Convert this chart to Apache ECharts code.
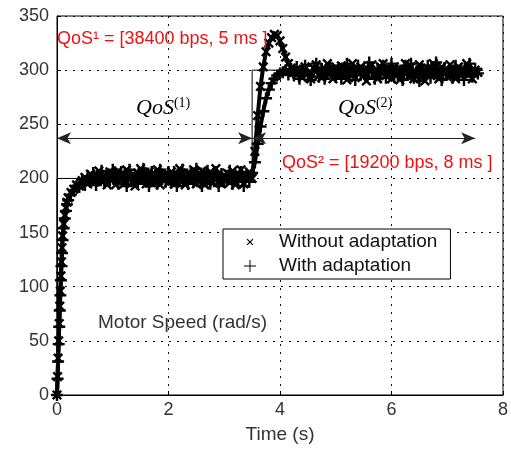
<!DOCTYPE html>
<html><head><meta charset="utf-8">
<script src="https://cdn.jsdelivr.net/npm/echarts@6/dist/echarts.min.js"></script>
<style>html,body{margin:0;padding:0;background:#fff}#c{width:511px;height:452px}</style>
</head><body><div id="c"></div>
<script>
// sample times (s)
var timeS = [0,0.01,0.02,0.03,0.04,0.05,0.06,0.07,0.08,0.09,0.1,
0.12,0.14,0.16,0.18,0.2,
0.25,0.3,0.35,0.4,0.45,0.5,0.55,0.6,0.65,0.7,0.75,0.8,0.85,0.9,0.95,1,
1.05,1.1,1.15,1.2,1.25,1.3,1.35,1.4,1.45,1.5,1.55,1.6,1.65,1.7,1.75,1.8,1.85,1.9,1.95,2,
2.05,2.1,2.15,2.2,2.25,2.3,2.35,2.4,2.45,2.5,2.55,2.6,2.65,2.7,2.75,2.8,2.85,2.9,2.95,3,
3.05,3.1,3.15,3.2,3.25,3.3,3.35,3.4,3.45,3.5,
3.55,3.6,3.65,3.7,3.75,3.8,3.85,3.9,3.95,4,
4.05,4.1,4.15,4.2,4.25,4.3,4.35,4.4,4.45,4.5,4.55,4.6,4.65,4.7,4.75,4.8,4.85,4.9,4.95,5,
5.05,5.1,5.15,5.2,5.25,5.3,5.35,5.4,5.45,5.5,5.55,5.6,5.65,5.7,5.75,5.8,5.85,5.9,5.95,6,
6.05,6.1,6.15,6.2,6.25,6.3,6.35,6.4,6.45,6.5,6.55,6.6,6.65,6.7,6.75,6.8,6.85,6.9,6.95,7,
7.05,7.1,7.15,7.2,7.25,7.3,7.35,7.4,7.45,7.5,7.55];

// Without adaptation (rad/s)
var withoutAdapt = [0,17,34,50,66,82,96,110,123,136,147,
158,166,173,178,182,
187,190,194,193,198,201,195,204,196,203,207,197,204,194,206,200,
194,207,201,195,208,202,197,193,205,209,199,195,206,196,203,208,194,201,205,196,
206,195,203,209,197,194,205,199,208,195,203,207,194,201,206,196,209,202,195,201,
205,196,207,194,203,208,195,201,206,200,
225,258,285,303,317,325,330,333,332,327,
320,312,306,302,298,296,300,293,303,297,292,302,305,295,293,301,306,297,292,303,
295,304,298,291,301,306,293,297,303,295,290,300,305,297,292,303,306,295,300,292,
303,297,291,300,306,294,303,292,298,305,299,290,302,295,306,297,292,303,300,294,
305,297,292,303,295,300,306,297,292,300,298];

// With adaptation (rad/s)
var withAdapt = [0,15,31,47,63,78,92,106,119,131,143,
154,163,170,176,180,
185,189,193,192,199,194,202,197,205,194,201,207,196,202,198,208,
201,195,206,198,193,208,199,203,195,200,209,197,193,206,201,195,208,203,197,206,
196,206,193,203,208,199,195,206,197,209,201,193,203,207,195,200,206,193,204,197,
199,207,195,203,197,206,193,203,197,205,
215,232,248,262,274,282,288,292,295,297,
298,300,296,301,295,303,292,299,304,296,291,299,306,294,301,292,297,304,299,294,
299,292,301,306,294,298,291,304,296,301,294,307,298,292,301,296,304,293,299,306,
294,301,298,291,304,296,306,293,299,290,301,296,304,293,299,307,296,291,302,296,
298,293,304,296,301,291,299,306,294,301,297];

// reference (set-point) trajectory
var refTime = [0,0,3.5,3.5,7.5];
var refSpeed = [0,200,200,300,300];

// QoS interval arrows: [start, end] times and level
var qos1Span = [0, 3.5];
var qos2Span = [3.5, 7.5];
var arrowLevel = 237;

var xTicks = [0,2,4,6,8];
var yTicks = [0,50,100,150,200,250,300,350];

function zip(a,b){var r=[];for(var i=0;i<a.length;i++)r.push([a[i],b[i]]);return r;}

var PLUS = 'path://M4,0H6V4H10V6H6V10H4V6H0V4H4Z';
var PLUS_THIN = 'path://M4.6,0H5.4V4.6H10V5.4H5.4V10H4.6V5.4H0V4.6H4.6Z';
var CROSS_SMALL = 'path://M0,1.2L1.2,0L5,3.8L8.8,0L10,1.2L6.2,5L10,8.8L8.8,10L5,6.2L1.2,10L0,8.8L3.8,5Z' +
  'M-4,-4h0.01v0.01h-0.01zM14,14h0.01v0.01h-0.01z';

var FONT = '"Liberation Sans", Arial, sans-serif';
var chart = echarts.init(document.getElementById('c'), null, {renderer:'canvas'});
chart.setOption({
  animation:false,
  backgroundColor:'#fff',
  grid:{left:57,right:8,top:16,bottom:57,show:true,borderColor:'#000',borderWidth:1,backgroundColor:'transparent'},
  xAxis:{type:'value',min:xTicks[0],max:xTicks[xTicks.length-1],interval:2,
    name:'Time (s)',nameLocation:'middle',nameGap:30,
    nameTextStyle:{fontFamily:FONT,fontSize:19,color:'#333'},
    axisLine:{show:true,lineStyle:{color:'#000',width:1}},
    axisTick:{show:true,inside:true,length:4,lineStyle:{color:'#000'}},
    axisLabel:{fontFamily:FONT,fontSize:18,color:'#333',margin:6},
    splitLine:{show:true,lineStyle:{color:'#111',width:1,type:[2,6]}}},
  yAxis:{type:'value',min:yTicks[0],max:yTicks[yTicks.length-1],interval:50,
    axisLine:{show:true,lineStyle:{color:'#000',width:1}},
    axisTick:{show:true,inside:true,length:4,lineStyle:{color:'#000'}},
    axisLabel:{fontFamily:FONT,fontSize:18,color:'#333',margin:8},
    splitLine:{show:true,lineStyle:{color:'#111',width:1,type:[2,6]}}},
  legend:{orient:'vertical',left:223,top:229,
    backgroundColor:'#fff',borderColor:'#000',borderWidth:1,borderRadius:0,
    padding:[3,13,3,21],itemWidth:48,itemHeight:12,itemGap:4,
    textStyle:{fontFamily:FONT,fontSize:19,color:'#111',lineHeight:20},
    data:[
      {name:'Without adaptation',icon:CROSS_SMALL,itemStyle:{color:'#000'}},
      {name:'With adaptation',icon:PLUS_THIN,itemStyle:{color:'#000'}}
    ]},
  series:[
    {name:'Reference',type:'line',data:zip(refTime,refSpeed),showSymbol:false,
     lineStyle:{color:'#000',width:1},z:1,
     markLine:{silent:true,symbol:['arrow','arrow'],symbolSize:[9,14],
       lineStyle:{color:'#222',width:1,type:'solid'},label:{show:false},
       data:[
         [{coord:[qos1Span[0],arrowLevel]},{coord:[qos1Span[1],arrowLevel]}],
         [{coord:[qos2Span[0],arrowLevel]},{coord:[qos2Span[1],arrowLevel]}]
       ]}},
    {name:'With adaptation',type:'line',data:zip(timeS,withAdapt),
     symbol:PLUS,symbolSize:12,showSymbol:true,
     itemStyle:{color:'#000'},lineStyle:{color:'#000',width:4},z:3},
    {name:'Without adaptation',type:'line',data:zip(timeS,withoutAdapt),
     symbol:PLUS,symbolRotate:45,symbolSize:12,showSymbol:true,
     itemStyle:{color:'#000'},lineStyle:{color:'#000',width:4},z:3}
  ],
  graphic:[
    {type:'text',left:57,top:30,z:10,style:{text:'QoS¹ = [38400 bps, 5 ms ]',fill:'#ee1111',font:'18px '+FONT}},
    {type:'text',left:282,top:154,z:10,style:{text:'QoS² = [19200 bps, 8 ms ]',fill:'#ee1111',font:'18px '+FONT}},
    {type:'text',left:98,top:313,z:10,style:{text:'Motor Speed (rad/s)',fill:'#333',font:'19px '+FONT}},
    {type:'text',left:136,top:96,z:10,style:{
      text:'{a|QoS}{b|(1)}',rich:{a:{fontFamily:'"Liberation Serif", serif',fontStyle:'italic',fontSize:22,color:'#555'},
        b:{fontFamily:'"Liberation Serif", serif',fontSize:14,color:'#555',padding:[0,0,10,0]}}}},
    {type:'text',left:338,top:96,z:10,style:{
      text:'{a|QoS}{b|(2)}',rich:{a:{fontFamily:'"Liberation Serif", serif',fontStyle:'italic',fontSize:22,color:'#555'},
        b:{fontFamily:'"Liberation Serif", serif',fontSize:14,color:'#555',padding:[0,0,10,0]}}}}
  ]
});
</script></body></html>
